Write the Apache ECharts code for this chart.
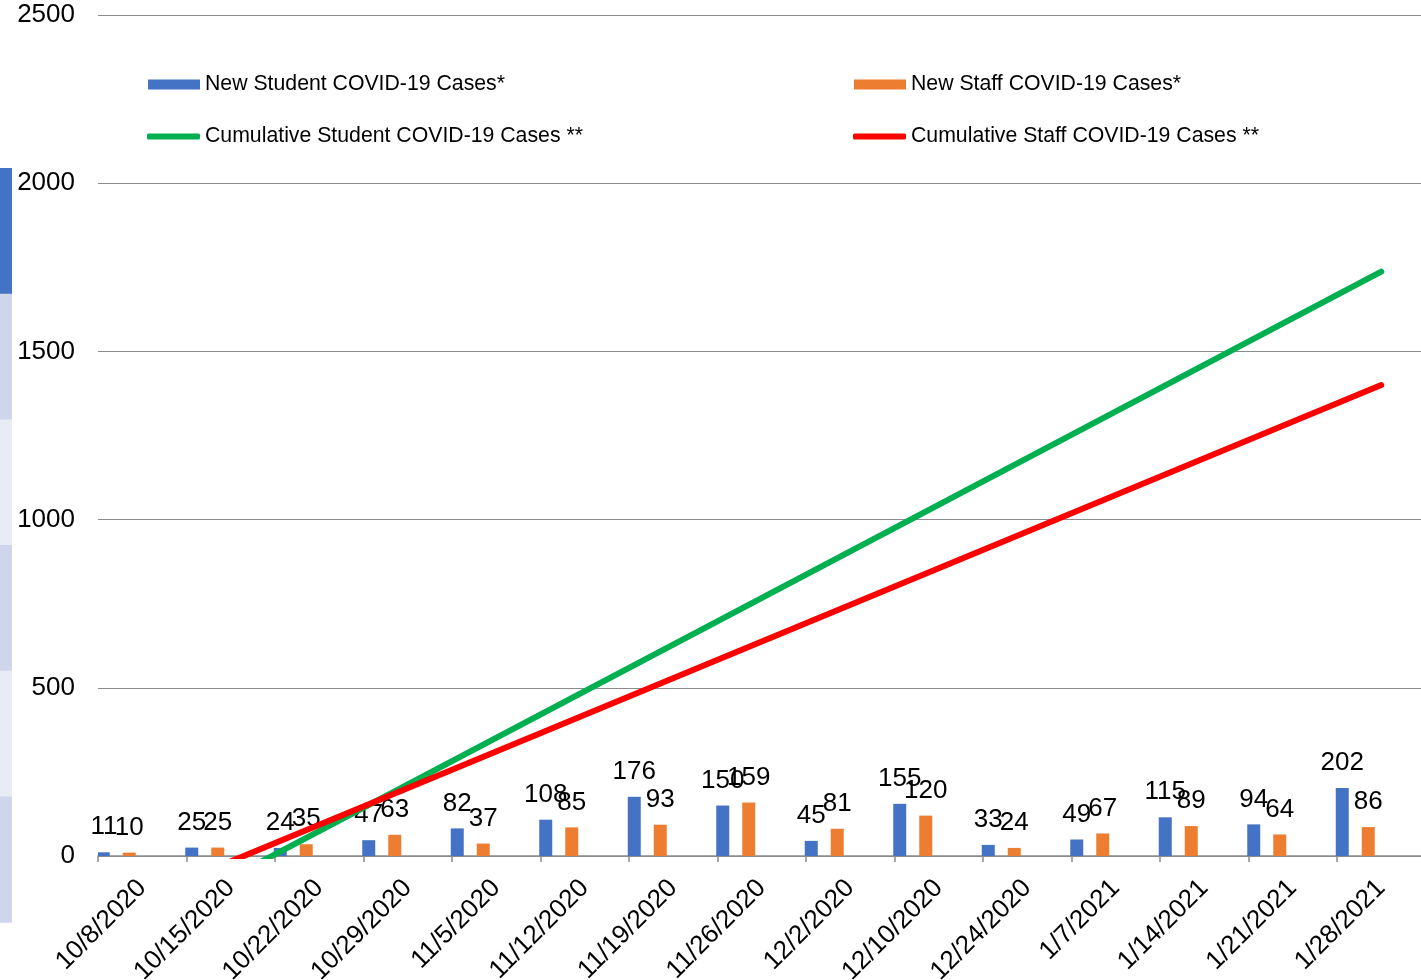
<!DOCTYPE html>
<html>
<head>
<meta charset="utf-8">
<script src="https://cdn.jsdelivr.net/npm/echarts@6/dist/echarts.min.js"></script>
<style>
  html, body { margin: 0; padding: 0; background: #ffffff; }
  #chart { width: 1421px; height: 980px; }
</style>
</head>
<body>
<div id="chart"></div>
<script>
// ---- data ----
const categories = ['10/8/2020', '10/15/2020', '10/22/2020', '10/29/2020', '11/5/2020',
  '11/12/2020', '11/19/2020', '11/26/2020', '12/2/2020', '12/10/2020', '12/24/2020',
  '1/7/2021', '1/14/2021', '1/21/2021', '1/28/2021'];
const newStudent = [11, 25, 24, 47, 82, 108, 176, 150, 45, 155, 33, 49, 115, 94, 202];
const newStaff = [10, 25, 35, 63, 37, 85, 93, 159, 81, 120, 24, 67, 89, 64, 86];
// straight cumulative lines: value at first and at last category
const cumStudentEnds = [-203, 1737];
const cumStaffEnds = [-125, 1400];
const yMin = 0, yMax = 2500, yStep = 500;

const seriesNames = ['New Student COVID-19 Cases*', 'New Staff COVID-19 Cases*',
  'Cumulative Student COVID-19 Cases **', 'Cumulative Staff COVID-19 Cases **'];

const FONT = "'Liberation Sans', Arial, sans-serif";
const GRID_GRAY = '#8c8c8c';

function endsToData(ends) {
  return [[categories[0], ends[0]], [categories[categories.length - 1], ends[1]]];
}

const barLabel = {
  show: true, position: 'top', distance: 12,
  color: '#000', fontSize: 26, fontFamily: FONT
};

function legendFor(name, left, top, w, h, icon) {
  return {
    data: [name], left: left, top: top, padding: 0, orient: 'horizontal',
    itemWidth: w, itemHeight: h, icon: icon, selectedMode: false,
    textStyle: { color: '#000', fontSize: 21.25, fontFamily: FONT, padding: [0, 0, 0, 0] }
  };
}

// decorative stripe at the left edge of the picture
const stripeColors = ['#4472c4', '#cfd5ea', '#e9ebf5', '#cfd5ea', '#e9ebf5', '#cfd5ea'];
const stripeTop = 168, stripeBand = 125.7;

const chart = echarts.init(document.getElementById('chart'), null, { renderer: 'canvas' });
chart.setOption({
  animation: false,
  backgroundColor: '#ffffff',
  textStyle: { fontFamily: FONT },
  graphic: stripeColors.map((c, i) => ({
    type: 'rect', left: 0, top: stripeTop + i * stripeBand, z: -10,
    shape: { width: 12, height: stripeBand + 0.5 },
    style: { fill: c }
  })),
  legend: [
    legendFor(seriesNames[0], 148, 74, 52, 10, 'rect'),
    legendFor(seriesNames[1], 854, 74, 52, 10, 'rect'),
    legendFor(seriesNames[2], 147, 126, 53, 6, 'roundRect'),
    legendFor(seriesNames[3], 853, 126, 53, 6, 'roundRect')
  ],
  grid: {
    left: 98, right: -4.5, top: 15, bottom: 124,
    containLabel: false, outerBoundsMode: 'none'
  },
  xAxis: {
    type: 'category',
    data: categories,
    boundaryGap: true,
    axisLine: { show: true, lineStyle: { color: GRID_GRAY, width: 1.5 } },
    axisTick: { show: true, length: 6, alignWithLabel: false, lineStyle: { color: GRID_GRAY, width: 1.5 } },
    axisLabel: {
      interval: 0, rotate: 45, margin: 28,
      color: '#000', fontSize: 26, fontFamily: FONT
    },
    splitLine: { show: false }
  },
  yAxis: {
    type: 'value',
    min: yMin, max: yMax, interval: yStep,
    axisLine: { show: false },
    axisTick: { show: false },
    axisLabel: {
      margin: 23, color: '#000', fontSize: 26, fontFamily: FONT,
      formatter: (v) => String(v)
    },
    splitLine: { show: true, lineStyle: { color: GRID_GRAY, width: 1 } }
  },
  series: [
    {
      name: seriesNames[0], type: 'bar', data: newStudent,
      barWidth: 13, barGap: '100%',
      itemStyle: { color: '#4472c4' }, label: barLabel
    },
    {
      name: seriesNames[1], type: 'bar', data: newStaff,
      barWidth: 13, barGap: '100%',
      itemStyle: { color: '#ed7d31' }, label: barLabel
    },
    // two empty bar slots (the reference groups bars as if four series shared each band)
    { name: 'slot3', type: 'bar', data: [], barWidth: 13, barGap: '100%' },
    { name: 'slot4', type: 'bar', data: [], barWidth: 13, barGap: '100%' },
    {
      name: seriesNames[2], type: 'line', data: endsToData(cumStudentEnds),
      showSymbol: false, symbol: 'none', clip: true,
      itemStyle: { color: '#00b050' },
      lineStyle: { color: '#00b050', width: 6, cap: 'round' }
    },
    {
      name: seriesNames[3], type: 'line', data: endsToData(cumStaffEnds),
      showSymbol: false, symbol: 'none', clip: true,
      itemStyle: { color: '#ff0000' },
      lineStyle: { color: '#ff0000', width: 6, cap: 'round' }
    }
  ]
});
</script>
</body>
</html>
